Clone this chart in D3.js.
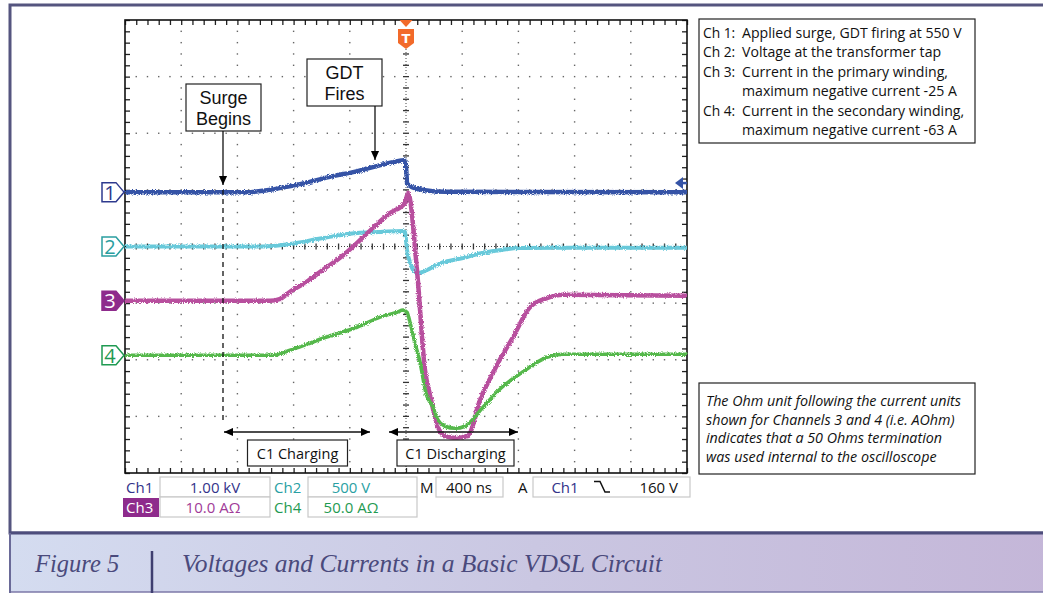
<!DOCTYPE html>
<html><head><meta charset="utf-8">
<script src="https://cdn.jsdelivr.net/npm/d3@7"></script>
<style>body{margin:0;background:#fff}svg{display:block}</style>
</head><body><svg id="c" width="1043" height="593"></svg>
<script>
// ---------- data (time in ns, trigger at 0) ----------
const ch1T = [-2000,-1110,-989,-754,-520,-377,-235,-93,-7,3,7,43,135,278,2000];
const ch1V = [0,0,35,141,283,353,442,530,565,350,159,88,35,5,0];
const ch2T = [-2000,-1018,-826,-591,-349,-185,-21,-7,7,28,50,85,135,242,406,525,648,811,1096,2000];
const ch2V = [0,0,22,75,119,128,137,128,-31,-137,-208,-234,-216,-150,-102,-62,-35,-13,-10,-12];
const ch3T = [-2000,-968,-900,-826,-705,-591,-470,-349,-235,-114,-7,14,78,135,171,221,278,349,441,477,520,605,648,762,883,1003,1117,2000];
const ch3I = [0,0,0.3,1.6,3.4,5.5,7.6,10.2,12.9,15.5,17.3,19.1,5.5,-12.2,-16.6,-21.9,-23.9,-24.2,-23.9,-21.9,-18.0,-13.4,-11.3,-6.4,-1.1,0.5,1.1,0.9];
const ch4T = [-2000,-947,-826,-705,-591,-349,-185,-64,-21,7,28,64,100,142,192,221,278,349,420,548,683,818,1003,1117,2000];
const ch4I = [0,0,4.4,9.7,15.0,24.7,33.6,38.0,39.8,38.0,29.2,10.6,-6.2,-33.6,-45.9,-55.7,-62.7,-64.5,-62.7,-45.9,-28.3,-15.9,-1.8,0.9,0.9];

const chLabels = ["1","2","3","4"];
const chPerDiv = [1000, 500, 10, 50];          // units per division
const readoutLabels = ["Ch1","Ch2","Ch3","Ch4"];
const readoutValues = ["1.00 kV","500 V","10.0 AΩ","50.0 AΩ"];
const timebase = "400 ns";
const trigSource = "Ch1", trigLevel = "160 V";
const legendLabels = ["Ch 1:","Ch 2:","Ch 3:","","Ch 4:",""];
const legendTexts = ["Applied surge, GDT firing at 550 V","Voltage at the transformer tap","Current in the primary winding,","maximum negative current -25 A","Current in the secondary winding,","maximum negative current -63 A"];
const noteLines = ["The Ohm unit following the current units","shown for Channels 3 and 4 (i.e. AOhm)","indicates that a 50 Ohms termination","was used internal to the oscilloscope"];

// ---------- layout ----------
const L=125, R=687, T=20, B=473;
const chOffsetDiv = [0.96, 0, -0.96, -1.92];
const chColor = ["#3553a6","#68c9da","#b84f9e","#55b84b"];
const chWidth = [4.5, 4, 4.5, 3.6];
const chMark = ["#2e3a8e","#2a9ea0","#8e2b8c","#1f9a52"];
const svg = d3.select("#c");
const defs = svg.append("defs");
const gr = defs.append("linearGradient").attr("id","band").attr("x1",0).attr("x2",1);
gr.append("stop").attr("offset",0).attr("stop-color","#d4dcf0");
gr.append("stop").attr("offset",0.5).attr("stop-color","#cac7e2");
gr.append("stop").attr("offset",1).attr("stop-color","#c4b6d8");
defs.append("marker").attr("id","ah").attr("viewBox","0 0 10 10").attr("refX",10).attr("refY",5)
  .attr("markerWidth",11).attr("markerHeight",9).attr("markerUnits","userSpaceOnUse")
  .attr("orient","auto-start-reverse").append("path").attr("d","M0,0.5 L10,5 L0,9.5 Z").attr("fill","#000");
const flt = defs.append("filter").attr("id","noise").attr("filterUnits","userSpaceOnUse")
  .attr("x",0).attr("y",0).attr("width",1043).attr("height",593);
flt.append("feTurbulence").attr("type","fractalNoise").attr("baseFrequency","1.1").attr("numOctaves",1).attr("seed",3).attr("result","t");
flt.append("feDisplacementMap").attr("in","SourceGraphic").attr("in2","t").attr("scale",4).attr("xChannelSelector","R").attr("yChannelSelector","G");

// outer frame & caption band
svg.append("rect").attr("x",10).attr("y",5).attr("width",1050).attr("height",528).attr("fill","#fff").attr("stroke","#55557f").attr("stroke-width",3);
svg.append("rect").attr("x",10).attr("y",533).attr("width",1050).attr("height",59).attr("fill","url(#band)").attr("stroke","none");
svg.append("line").attr("x1",9).attr("x2",1043).attr("y1",533).attr("y2",533).attr("stroke","#4d4d7c").attr("stroke-width",3);
svg.append("line").attr("x1",10).attr("x2",1043).attr("y1",592).attr("y2",592).attr("stroke","#7d78a8").attr("stroke-width",1.5);
svg.append("line").attr("x1",10).attr("x2",10).attr("y1",533).attr("y2",593).attr("stroke","#6a6a98").attr("stroke-width",2);
svg.append("line").attr("x1",152).attr("x2",152).attr("y1",551).attr("y2",593).attr("stroke","#3f3f70").attr("stroke-width",2.5);
svg.append("text").attr("x",35).attr("y",572).attr("font-family","Liberation Serif").attr("font-style","italic").attr("font-size",24.5).attr("fill","#4a4a7c").text("Figure 5");
svg.append("text").attr("x",182).attr("y",572).attr("font-family","Liberation Serif").attr("font-style","italic").attr("font-size",25.5).attr("fill","#4a4a7c").text("Voltages and Currents in a Basic VDSL Circuit");

// scales
const x = d3.scaleLinear().domain([-2000,2000]).range([L,R]);
const yDiv = d3.scaleLinear().domain([-4,4]).range([B,T]);
const yCh = chPerDiv.map((s,i)=>d3.scaleLinear().domain([(-4-chOffsetDiv[i])*s,(4-chOffsetDiv[i])*s]).range([B,T]));

const plot = svg.append("g");
// grid dots
const majorT = d3.range(-2000,2001,400), minorT = d3.range(-2000,2001,80);
const majorD = d3.range(-4,4.01,1), minorD = d3.range(-4,4.01,0.2);
const dots = plot.append("g").attr("fill","#666");
majorT.slice(1,-1).filter(t=>t!==0).forEach(t=>minorD.slice(1,-1).forEach(d=>dots.append("rect").attr("x",x(t)-0.7).attr("y",yDiv(d)-0.7).attr("width",1.4).attr("height",1.4)));
majorD.slice(1,-1).filter(d=>d!==0).forEach(d=>minorT.slice(1,-1).forEach(t=>{ if(t%400!==0) dots.append("rect").attr("x",x(t)-0.7).attr("y",yDiv(d)-0.7).attr("width",1.4).attr("height",1.4);}));
// center lines
plot.append("line").attr("x1",L).attr("x2",R).attr("y1",yDiv(0)).attr("y2",yDiv(0)).attr("stroke","#444").attr("stroke-width",1).attr("stroke-dasharray","1,2");
plot.append("line").attr("x1",x(0)).attr("x2",x(0)).attr("y1",49).attr("y2",B).attr("stroke","#444").attr("stroke-width",1).attr("stroke-dasharray","1,2");
minorT.slice(1,-1).forEach(t=>plot.append("line").attr("x1",x(t)).attr("x2",x(t)).attr("y1",yDiv(0)-3).attr("y2",yDiv(0)+3).attr("stroke","#333").attr("stroke-width",1.3));
minorD.slice(1,-1).forEach(d=>{ if(yDiv(d)>52) plot.append("line").attr("x1",x(0)-3).attr("x2",x(0)+3).attr("y1",yDiv(d)).attr("y2",yDiv(d)).attr("stroke","#333").attr("stroke-width",1.3);});
// edge ticks via axes
const tk=5;
plot.append("g").attr("transform",`translate(0,${T})`).call(d3.axisBottom(x).tickValues(minorT).tickSize(tk).tickFormat("")).call(g=>g.select(".domain").remove());
plot.append("g").attr("transform",`translate(0,${B})`).call(d3.axisTop(x).tickValues(minorT).tickSize(tk).tickFormat("")).call(g=>g.select(".domain").remove());
plot.append("g").attr("transform",`translate(${L},0)`).call(d3.axisRight(yDiv).tickValues(minorD).tickSize(tk).tickFormat("")).call(g=>g.select(".domain").remove());
plot.append("g").attr("transform",`translate(${R},0)`).call(d3.axisLeft(yDiv).tickValues(minorD).tickSize(tk).tickFormat("")).call(g=>g.select(".domain").remove());
plot.selectAll(".tick line").attr("stroke","#222").attr("stroke-width",1.3);
plot.append("rect").attr("x",L).attr("y",T).attr("width",R-L).attr("height",B-T).attr("fill","none").attr("stroke","#111").attr("stroke-width",1.6);

// traces
const series = [[ch1T,ch1V],[ch2T,ch2V],[ch3T,ch3I],[ch4T,ch4I]];
const order=[1,0,2,3];
const tg = svg.append("g").attr("filter","url(#noise)");
order.forEach(i=>{
  const [ts,vs]=series[i];
  const line=d3.line().x(d=>x(d[0])).y(d=>yCh[i](d[1])).curve(d3.curveMonotoneX);
  tg.append("path").attr("d",line(ts.map((t,k)=>[t,vs[k]]))).attr("fill","none").attr("stroke",chColor[i]).attr("stroke-width",chWidth[i]).attr("stroke-linejoin","round");
});

// channel markers
chLabels.forEach((lab,i)=>{
  const cy=yCh[i](0), filled=i===2;
  svg.append("path").attr("d",`M102,${cy-9.5}H116L124,${cy}L116,${cy+9.5}H102Z`)
    .attr("fill",filled?chMark[i]:"#fff").attr("stroke",chMark[i]).attr("stroke-width",1.5);
  svg.append("text").attr("x",110).attr("y",cy+7.5).attr("text-anchor","middle").attr("font-family","Open Sans").attr("font-size",20)
    .attr("fill",filled?"#fff":chMark[i]).text(lab);
});
// trigger level arrow (right)
const ty=yCh[0](160);
svg.append("path").attr("d",`M675,${ty}L683,${ty-6}L683,${ty+6}Z`).attr("fill","#3553a6");
svg.append("line").attr("x1",680).attr("x2",687).attr("y1",ty).attr("y2",ty).attr("stroke","#3553a6").attr("stroke-width",2.5);
// trigger T marker
const tx=x(0);
svg.append("path").attr("d",`M${tx-6.5},20L${tx+6.5},20L${tx},27Z`).attr("fill","#f26a2a");
svg.append("path").attr("d",`M${tx-8},29H${tx+8}V43L${tx},49L${tx-8},43Z`).attr("fill","#f26a2a");
svg.append("text").attr("x",tx).attr("y",43).attr("text-anchor","middle").attr("font-family","DejaVu Sans").attr("font-weight","bold").attr("font-size",13).attr("fill","#fff").text("T");

// annotations
const ann = svg.append("g").attr("font-family","Open Sans").attr("fill","#111");
function box(x0,y0,w,h){ann.append("rect").attr("x",x0).attr("y",y0).attr("width",w).attr("height",h).attr("fill","#fff").attr("stroke","#222").attr("stroke-width",1.2);}
const big = {family:"Liberation Sans", size:18};
box(186,84,75,47);
ann.append("text").attr("x",223.5).attr("y",104).attr("text-anchor","middle").attr("font-family",big.family).attr("font-size",big.size).text("Surge");
ann.append("text").attr("x",223.5).attr("y",124.5).attr("text-anchor","middle").attr("font-family",big.family).attr("font-size",big.size).text("Begins");
ann.append("line").attr("x1",223).attr("x2",223).attr("y1",131).attr("y2",185).attr("stroke","#111").attr("stroke-width",1.3).attr("marker-end","url(#ah)");
ann.append("line").attr("x1",223).attr("x2",223).attr("y1",190).attr("y2",420).attr("stroke","#111").attr("stroke-width",1.3).attr("stroke-dasharray","5,4");
box(307,59,75,47);
ann.append("text").attr("x",344.5).attr("y",79).attr("text-anchor","middle").attr("font-family",big.family).attr("font-size",big.size).text("GDT");
ann.append("text").attr("x",344.5).attr("y",99.5).attr("text-anchor","middle").attr("font-family",big.family).attr("font-size",big.size).text("Fires");
ann.append("line").attr("x1",375).attr("x2",375).attr("y1",106).attr("y2",160).attr("stroke","#111").attr("stroke-width",1.3).attr("marker-end","url(#ah)");
ann.append("line").attr("x1",224).attr("x2",370).attr("y1",432).attr("y2",432).attr("stroke","#111").attr("stroke-width",1.3).attr("marker-start","url(#ah)").attr("marker-end","url(#ah)");
ann.append("line").attr("x1",389).attr("x2",518).attr("y1",432).attr("y2",432).attr("stroke","#111").attr("stroke-width",1.3).attr("marker-start","url(#ah)").attr("marker-end","url(#ah)");
box(247.5,440,100,26);
ann.append("text").attr("x",297.5).attr("y",458.5).attr("text-anchor","middle").attr("font-size",14.5).text("C1 Charging");
box(397,440,117,26);
ann.append("text").attr("x",455.5).attr("y",458.5).attr("text-anchor","middle").attr("font-size",14.5).text("C1 Discharging");

// legend box
box(699,19,276,124);
legendTexts.forEach((t,i)=>{
  const yy=38+i*19.4;
  if(legendLabels[i]) ann.append("text").attr("x",703).attr("y",yy).attr("font-size",13.8).text(legendLabels[i]);
  ann.append("text").attr("x",742).attr("y",yy).attr("font-size",14.1).text(t);
});
// note box
box(699,383,276,91);
noteLines.forEach((t,i)=>ann.append("text").attr("x",706).attr("y",406+i*18.7).attr("font-size",14.3).attr("font-style","italic").text(t));

// readouts
const ro = svg.append("g").attr("font-family","Open Sans").attr("font-size",15);
function rbox(x0,y0,w,h){ro.append("rect").attr("x",x0).attr("y",y0).attr("width",w).attr("height",h).attr("fill","#fff").attr("stroke","#c8c8c8").attr("stroke-width",1.2);}
const roCol=["#33338a","#2a9fa3","#a13b98","#1f9a52"];
rbox(160,477,110,20); rbox(308,477,109,20); rbox(436,477,67,20); rbox(533,477,157,20);
rbox(160,497,110,20); rbox(308,497,109,20);
ro.append("rect").attr("x",123).attr("y",498).attr("width",36).attr("height",19).attr("fill","#8e2b8c");
ro.append("text").attr("x",126).attr("y",493).attr("fill",roCol[0]).text(readoutLabels[0]);
ro.append("text").attr("x",215).attr("y",493).attr("text-anchor","middle").attr("fill",roCol[0]).text(readoutValues[0]);
ro.append("text").attr("x",274).attr("y",493).attr("fill",roCol[1]).text(readoutLabels[1]);
ro.append("text").attr("x",351).attr("y",493).attr("text-anchor","middle").attr("fill",roCol[1]).text(readoutValues[1]);
ro.append("text").attr("x",126).attr("y",513).attr("fill","#fff").text(readoutLabels[2]);
ro.append("text").attr("x",213).attr("y",513).attr("text-anchor","middle").attr("fill",roCol[2]).text(readoutValues[2]);
ro.append("text").attr("x",274).attr("y",513).attr("fill",roCol[3]).text(readoutLabels[3]);
ro.append("text").attr("x",351).attr("y",513).attr("text-anchor","middle").attr("fill",roCol[3]).text(readoutValues[3]);
ro.append("text").attr("x",420).attr("y",493).attr("fill","#111").text("M");
ro.append("text").attr("x",469).attr("y",493).attr("text-anchor","middle").attr("fill","#111").text(timebase);
ro.append("text").attr("x",518).attr("y",493).attr("fill","#111").text("A");
ro.append("text").attr("x",565).attr("y",493).attr("text-anchor","middle").attr("fill",roCol[0]).text(trigSource);
ro.append("path").attr("d","M594,481.5H600L605,492H610").attr("fill","none").attr("stroke","#111").attr("stroke-width",1.5);
ro.append("text").attr("x",678).attr("y",493).attr("text-anchor","end").attr("fill","#111").text(trigLevel);
</script></body></html>
